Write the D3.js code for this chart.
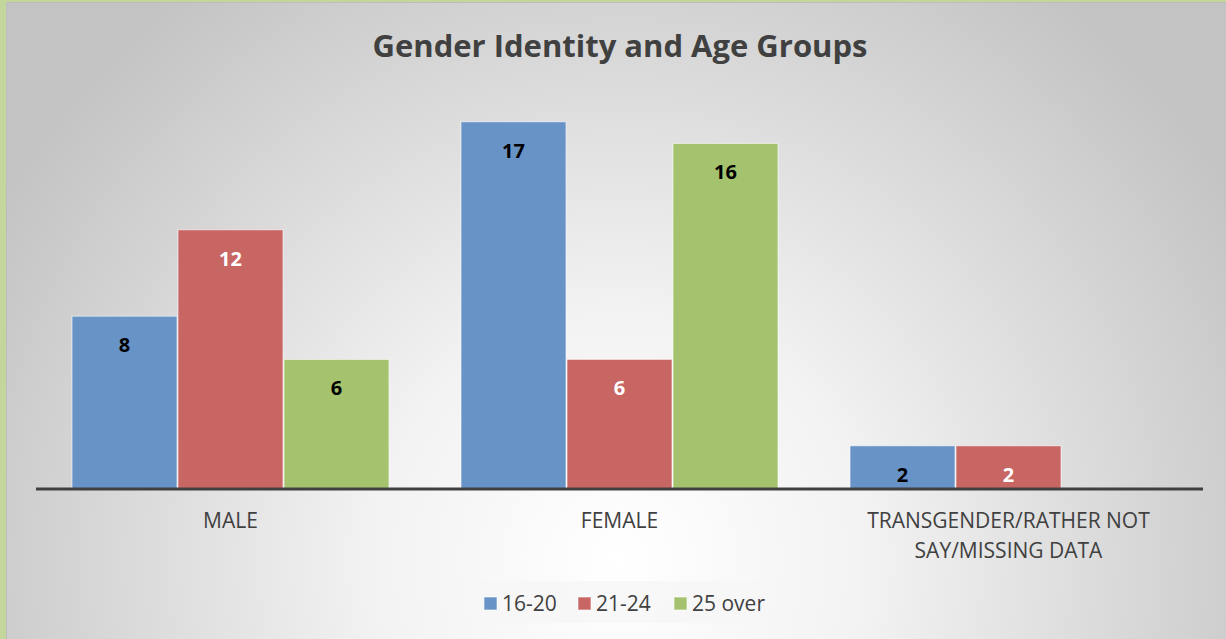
<!DOCTYPE html>
<html><head><meta charset="utf-8">
<script src="https://cdn.jsdelivr.net/npm/d3@7"></script>
<style>html,body{margin:0;padding:0;background:#c3d69b;}svg{display:block;}</style>
</head><body>
<script>
const categories = ["MALE", "FEMALE", "TRANSGENDER/RATHER NOT SAY/MISSING DATA"];
const categoryLines = [["MALE"], ["FEMALE"], ["TRANSGENDER/RATHER NOT", "SAY/MISSING DATA"]];
const seriesNames = ["16-20", "21-24", "25 over"];
const values16_20 = [8, 17, 2];
const values21_24 = [12, 6, 2];
const values25over = [6, 16, null];
const seriesValues = [values16_20, values21_24, values25over];
const colors = ["#6793c7", "#c86664", "#a5c36e"];
const labelColors = ["#000", "#fff", "#000"];

const W = 1226, H = 639;
const svg = d3.select("body").append("svg").attr("width", W).attr("height", H);
const defs = svg.append("defs");
const rg = defs.append("radialGradient").attr("id", "bg")
  .attr("gradientUnits", "userSpaceOnUse").attr("cx", 620).attr("cy", 560).attr("r", 720)
  .attr("fx", 620).attr("fy", 560);
rg.append("stop").attr("offset", "0").attr("stop-color", "#ffffff");
rg.append("stop").attr("offset", "0.35").attr("stop-color", "#f2f2f2");
rg.append("stop").attr("offset", "1").attr("stop-color", "#c3c3c3");

svg.append("rect").attr("x", 0).attr("y", 0).attr("width", W).attr("height", H).attr("fill", "#c3d69b");
svg.append("rect").attr("x", 6.5).attr("y", 2.5).attr("width", W - 6).attr("height", H - 2)
  .attr("fill", "url(#bg)").attr("stroke", "#bdbdbd").attr("stroke-width", 1);

svg.append("text").attr("x", 620).attr("y", 57).attr("text-anchor", "middle")
  .attr("font-family", "Open Sans, sans-serif").attr("font-weight", "bold").attr("font-size", 31)
  .attr("fill", "#404040").text("Gender Identity and Age Groups");

const left = 36, right = 1203, base = 489;
const x0 = d3.scaleBand().domain(categories).range([left, right]).paddingInner(0).paddingOuter(0);
const innerPad = 35.5;
const x1 = d3.scaleBand().domain(seriesNames).range([innerPad, x0.bandwidth() - innerPad]).padding(0);
const y = d3.scaleLinear().domain([0, 18]).range([base, base - 18 * 21.6]);

const g = svg.append("g");
categories.forEach((c, ci) => {
  seriesNames.forEach((s, si) => {
    const v = seriesValues[si][ci];
    if (v == null) return;
    const bx = x0(c) + x1(s);
    g.append("rect").attr("x", bx + 0.5).attr("y", y(v))
      .attr("width", x1.bandwidth() - 1).attr("height", base - y(v))
      .attr("fill", colors[si]).attr("stroke", "rgba(255,255,255,0.6)").attr("stroke-width", 1);
    g.append("text").attr("x", bx + x1.bandwidth() / 2).attr("y", y(v) + 36)
      .attr("text-anchor", "middle").attr("font-family", "Open Sans, sans-serif")
      .attr("font-weight", "bold").attr("font-size", 20).attr("fill", labelColors[si]).text(v);
  });
});

// axis
const xAxis = d3.axisBottom(x0).tickSize(0).tickFormat("");
const ax = svg.append("g").attr("transform", `translate(0,${base})`).call(xAxis);
ax.select(".domain").attr("stroke", "#404040").attr("stroke-width", 3).attr("d", `M${left},0H${right}`);

categories.forEach((c, ci) => {
  const t = svg.append("text").attr("text-anchor", "middle")
    .attr("font-family", "Open Sans, sans-serif").attr("font-size", 21).attr("fill", "#404040");
  categoryLines[ci].forEach((ln, li) => {
    t.append("tspan").attr("x", x0(c) + x0.bandwidth() / 2).attr("y", 528 + li * 30).text(ln);
  });
});

// legend
const lg = svg.append("g");
lg.append("rect").attr("x", 461).attr("y", 581).attr("width", 317).attr("height", 42).attr("fill", "#f6f6f6").attr("opacity", 0.8);
const legX = [484, 578, 674];
seriesNames.forEach((s, i) => {
  lg.append("rect").attr("x", legX[i]).attr("y", 597).attr("width", 13).attr("height", 13)
    .attr("fill", colors[i]).attr("stroke", "rgba(255,255,255,0.6)");
  lg.append("text").attr("x", legX[i] + 18).attr("y", 611).attr("font-family", "Open Sans, sans-serif")
    .attr("font-size", 21).attr("fill", "#404040").text(s);
});
</script>
</body></html>
